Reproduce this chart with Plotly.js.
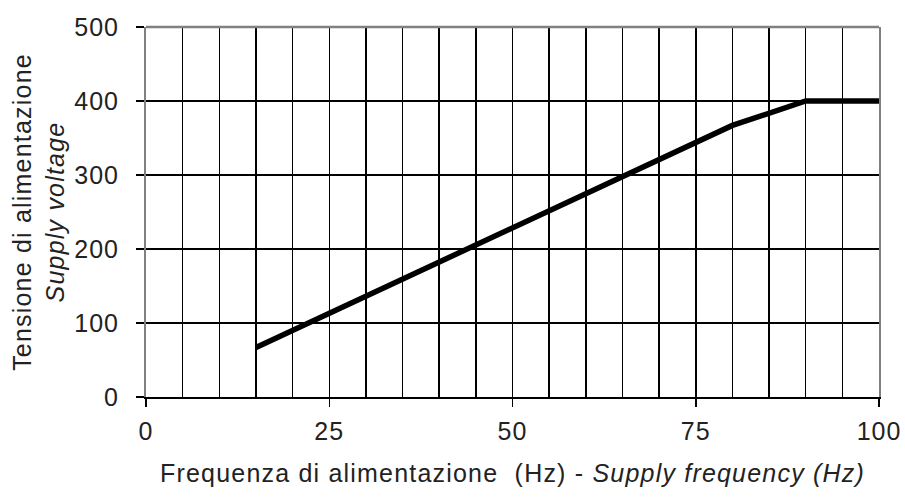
<!DOCTYPE html>
<html>
<head>
<meta charset="utf-8">
<script src="https://cdn.plot.ly/plotly-3.0.1.min.js"></script>
<style>
  html, body { margin: 0; padding: 0; background: #fff; }
  #plot { width: 905px; height: 498px; }
  /* the reference lettering is loosely spaced */
  .g-xtitle text, .g-ytitle text { letter-spacing: 1.2px; }
  .xtick text, .ytick text { letter-spacing: 1px; }
</style>
</head>
<body>
<div id="plot"></div>
<script>
// supply voltage vs supply frequency
var freq = [15, 25, 50, 75, 80, 90, 100];
var voltage = [67, 113, 228, 342, 367, 400, 400];

var xTicks = [0, 25, 50, 75, 100];
var yTicks = [0, 100, 200, 300, 400, 500];

var trace1 = {
  x: freq,
  y: voltage,
  mode: 'lines',
  type: 'scatter',
  line: { color: '#000', width: 5.5 },
  hoverinfo: 'skip'
};

var data = [trace1];

var fontFam = '"Liberation Sans", Arial, sans-serif';

var layout = {
  width: 905,
  height: 498,
  margin: { l: 146, r: 26, t: 27, b: 101 },
  paper_bgcolor: '#fff',
  plot_bgcolor: '#fff',
  showlegend: false,
  font: { family: fontFam, color: '#222', size: 25 },
  xaxis: {
    range: [0, 100],
    tickvals: xTicks,
    ticktext: xTicks.map(String),
    ticks: 'outside',
    ticklen: 8,
    tickwidth: 1.5,
    tickcolor: '#000',
    ticklabelstandoff: 3,
    tickfont: { size: 25, color: '#222' },
    showgrid: true,
    gridcolor: '#000',
    gridwidth: 1.5,
    minor: { dtick: 5, showgrid: true, gridcolor: '#000', gridwidth: 1.5 },
    showline: true,
    linecolor: '#000',
    linewidth: 2,
    zeroline: false,
    title: {
      text: 'Frequenza di alimentazione  (Hz) - <i>Supply frequency (Hz)</i>',
      font: { size: 25, color: '#222' },
      standoff: 20
    }
  },
  yaxis: {
    range: [0, 500],
    tickvals: yTicks,
    ticktext: yTicks.map(String),
    ticks: 'outside',
    ticklen: 8,
    tickwidth: 1.5,
    tickcolor: '#000',
    ticklabelstandoff: 12,
    tickfont: { size: 25, color: '#222' },
    showgrid: true,
    gridcolor: '#000',
    gridwidth: 1.5,
    showline: true,
    linecolor: '#808080',
    linewidth: 2,
    mirror: true,
    zeroline: false,
    title: {
      text: 'Tensione di alimentazione<br><i>Supply voltage</i>',
      font: { size: 25, color: '#222' },
      standoff: 3
    }
  },
  shapes: [
    { type: 'line', xref: 'paper', yref: 'paper', x0: 0, x1: 1, y0: 1, y1: 1,
      line: { color: '#808080', width: 2.5 }, layer: 'above' }
  ]
};

Plotly.newPlot('plot', data, layout, { displayModeBar: false, staticPlot: true });
</script>
</body>
</html>
